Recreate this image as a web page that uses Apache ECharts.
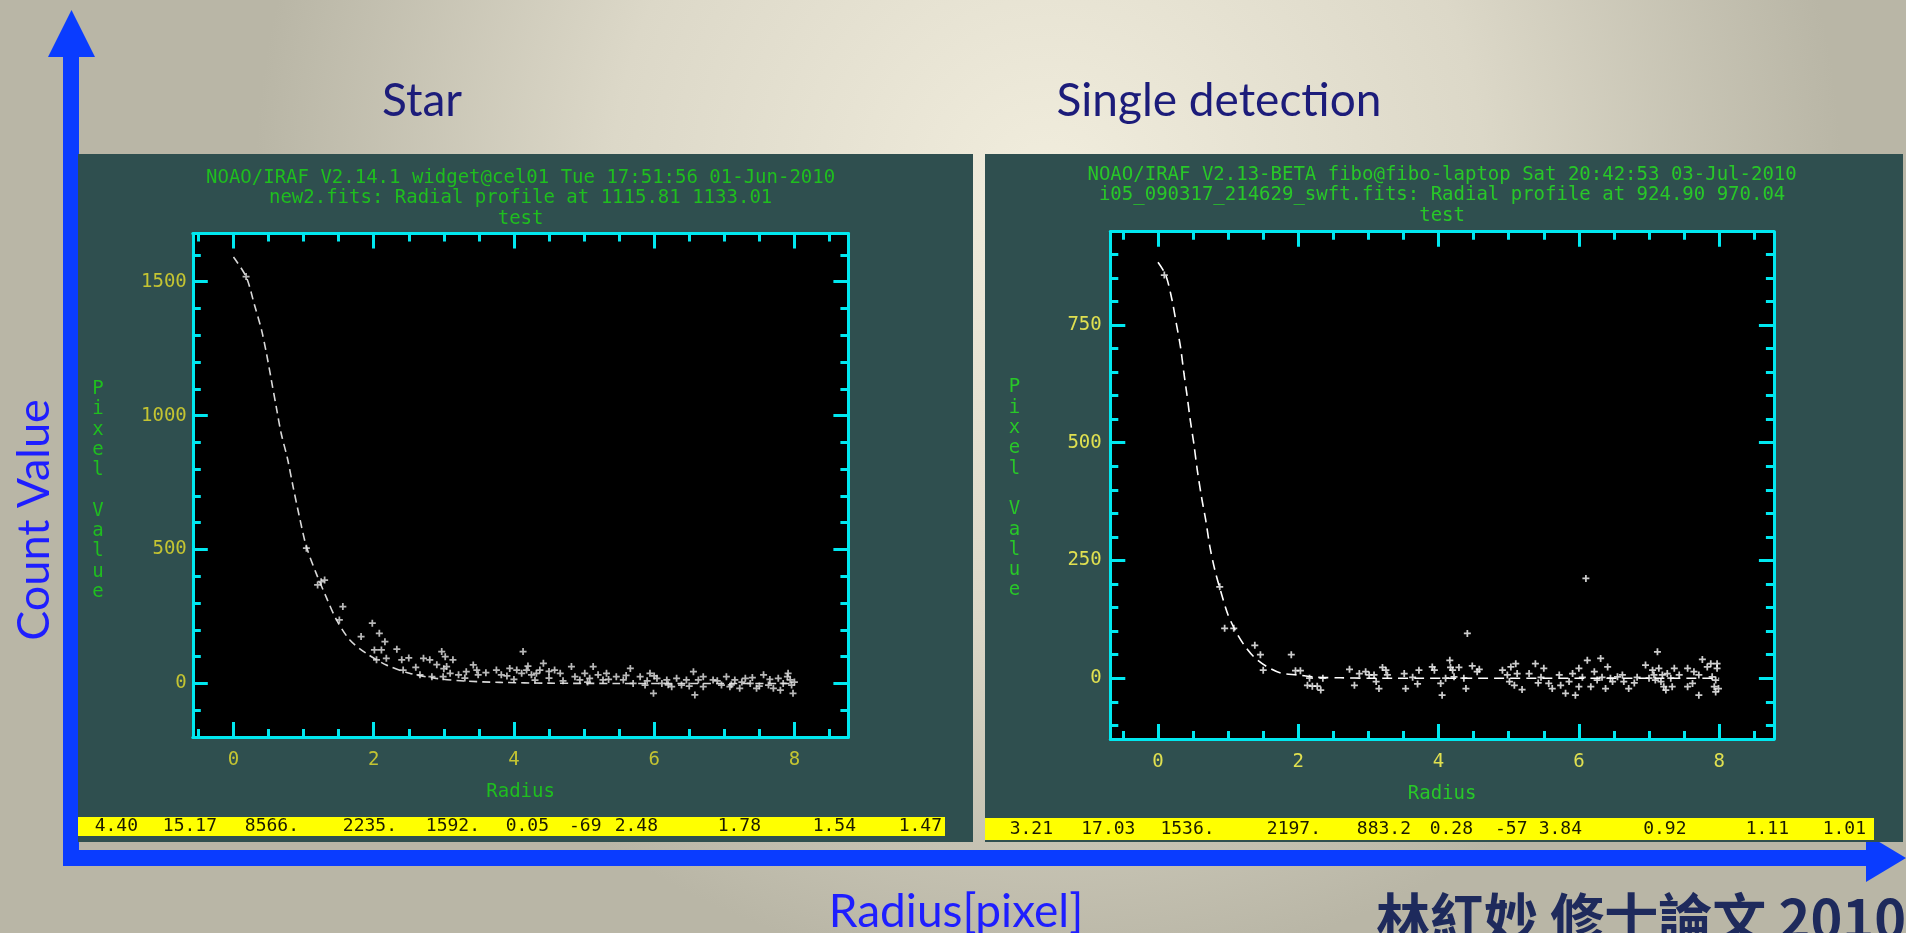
<!DOCTYPE html>
<html>
<head>
<meta charset="utf-8">
<script src="https://cdn.jsdelivr.net/npm/echarts@6/dist/echarts.min.js"></script>
<style>
  html, body { margin: 0; padding: 0; width: 1906px; height: 933px; overflow: hidden; }
  #bg { position: absolute; left: 0; top: 0; width: 1906px; height: 933px; }
  #starPanel { position: absolute; left: 78px; top: 154px; width: 895px; height: 688px; filter: blur(0.6px); }
  #detPanel { position: absolute; left: 985px; top: 154px; width: 918px; height: 688px; }
</style>
</head>
<body>
<div id="bg"></div>
<div id="starPanel"></div>
<div id="detPanel"></div>
<script>
// ---- Star: radial profile (fitted curve and measured pixels) ----
const starFitR = [0, 0.18, 0.30, 0.40, 0.47, 0.54, 0.61, 0.68, 0.77, 0.85, 0.94, 1.04, 1.18, 1.32, 1.47, 1.66, 1.89, 2.18, 2.51, 2.89, 3.3, 3.8, 4.5, 5.5, 6.5, 8.0];
const starFitV = [1592, 1519, 1413, 1320, 1233, 1133, 1033, 934, 840, 735, 623, 511, 411, 324, 237, 162, 113, 69, 38, 19, 9, 4, 1, 0, 0, 0];
const starPixR = [0.18, 1.04, 1.20, 1.25, 1.30, 1.51, 1.56, 1.82, 1.98, 2.08, 2.16, 2.01, 2.11, 2.33, 2.04, 2.18, 2.40, 2.42,
  2.71, 2.80, 2.66, 2.83, 2.97, 3.02, 3.13, 3.04, 2.99, 3.09, 3.21, 3.32, 3.42, 3.49, 3.47,
  3.75, 3.82, 3.94, 4.04, 4.11, 4.13, 4.18, 4.25, 4.32, 4.37, 4.42,
  4.58, 4.66, 4.82, 4.87, 4.94, 5.01, 5.08, 5.13, 5.20, 5.27, 5.32, 5.46, 5.56, 5.66, 5.70, 5.80, 5.87, 5.94, 5.99,
  6.04, 6.11, 6.18, 6.25, 6.32, 6.39, 6.46, 6.56, 6.58, 6.63, 6.70, 6.84, 6.96, 7.03, 7.08, 7.15, 7.22, 7.30, 7.37,
  7.46, 7.56, 7.63, 7.70, 7.77, 7.84, 7.91, 7.96, 7.98, 7.94,
  4.50, 4.70, 5.05, 5.35, 5.60, 5.90, 6.00, 6.20, 6.50, 6.70, 6.90, 7.10, 7.25, 7.40, 7.50, 7.65, 7.80, 7.90, 8.00,
  3.60, 3.90, 4.00, 4.20, 4.30, 4.50, 3.30, 3.00, 2.90, 2.60, 2.50];
const starPixV = [1519, 505, 368, 380, 386, 237, 287, 175, 225, 187, 156, 125, 125, 128, 88, 94, 88, 50,
  94, 88, 32, 25, 119, 100, 88, 63, 25, 38, 32, 44, 69, 32, 50,
  50, 32, 56, 50, 38, 119, 50, 32, 38, 50, 75,
  50, 38, 63, 25, 13, 38, 19, 63, 32, 13, 38, 25, 13, 56, 0, 25, -6, 38, -37,
  19, 0, 13, -12, 19, -6, 13, 44, -43, 13, -12, 13, -6, 25, -12, 13, -18, 19, 0,
  -18, 32, -6, -18, 19, 0, 38, -6, -37, 13,
  20, 10, 5, 15, 30, 10, 28, -5, -10, 25, 10, -5, 5, 22, -10, 15, -25, 25, 5,
  40, 28, 15, 65, 12, 45, 20, 55, 70, 60, 95];
const starStats = ['4.40', '15.17', '8566.', '2235.', '1592.', '0.05', '-69', '2.48', '1.78', '1.54', '1.47'];
const starYTicks = [0, 500, 1000, 1500];
const starYMinor = [-200, -100, 100, 200, 300, 400, 600, 700, 800, 900, 1100, 1200, 1300, 1400, 1600];
const starTitle = ['NOAO/IRAF V2.14.1 widget@cel01 Tue 17:51:56 01-Jun-2010', 'new2.fits: Radial profile at 1115.81 1133.01', 'test'];

// ---- Single detection: radial profile ----
const detFitR = [0, 0.11, 0.20, 0.26, 0.32, 0.37, 0.41, 0.46, 0.51, 0.56, 0.62, 0.68, 0.74, 0.81, 0.89, 0.99, 1.11, 1.23, 1.37, 1.56, 1.75, 1.99, 2.27, 2.6, 3.0, 8.0];
const detFitV = [883.2, 856, 803, 754, 704, 647, 605, 548, 499, 442, 385, 336, 279, 230, 187, 138, 99, 70, 45, 24, 11, 7, 2, 1, 0, 0];
const detPixR = [0.09, 0.88, 0.95, 1.08, 1.38, 1.46, 1.50, 1.90, 1.96, 2.03, 2.16, 2.13, 2.20, 2.27, 2.32, 2.35,
  2.73, 2.80, 2.87, 2.96, 3.01, 3.08, 3.11, 3.15, 3.20, 3.25, 3.27,
  3.51, 3.53, 3.63, 3.70, 3.72,
  3.91, 3.94, 4.03, 4.05, 4.10, 4.16, 4.17, 4.20, 4.22, 4.29, 4.36, 4.39, 4.41, 4.48, 4.55, 4.58,
  4.91, 4.98, 5.01, 5.03, 5.08, 5.10, 5.12, 5.19, 5.29, 5.38, 5.42, 5.46, 5.50, 5.57, 5.62, 5.72, 5.74, 5.81, 5.86, 5.91, 5.95,
  6.00, 6.00, 6.05, 6.10, 6.12, 6.17, 6.22, 6.26, 6.31, 6.33, 6.38, 6.41, 6.45, 6.48, 6.55, 6.62, 6.64, 6.71, 6.79, 6.83,
  6.95, 7.00, 7.05, 7.07, 7.09, 7.12, 7.14, 7.17, 7.19, 7.21, 7.24, 7.26, 7.31, 7.33, 7.36, 7.43, 7.55, 7.55, 7.62, 7.64,
  7.71, 7.71, 7.76, 7.83, 7.88, 7.90, 7.95, 7.97, 7.97, 7.95, 7.99, 7.93];
const detPixV = [856, 194, 106, 106, 70, 50, 17, 50, 16, 16, 0, -15, -17, -17, -25, 0,
  19, -15, 10, 14, 7, 7, -7, -22, 23, 17, 7,
  10, -22, 2, -12, 17,
  24, 17, -11, -36, 0, 38, 23, 17, 3, 23, 0, -22, 95, 26, 14, 19,
  17, 7, -7, 24, -15, 31, 10, -24, 10, 31, -10, 2, 21, -11, -22, 7, -15, -32, -7, 10, -36,
  21, -18, 2, 212, 38, -18, 14, -4, 42, 2, -22, 24, 0, -7, 3, 7, -7, -22, -10, 2,
  28, 0, 17, 7, -4, 56, 21, -7, 7, -18, -25, 10, 0, -18, 21, 7, 21, -18, -11, 14,
  7, -36, 40, 24, 31, 3, -4, 31, 21, -29, -22, -18];
const detStats = ['3.21', '17.03', '1536.', '2197.', '883.2', '0.28', '-57', '3.84', '0.92', '1.11', '1.01'];
const detYTicks = [0, 250, 500, 750];
const detYMinor = [-100, -50, 50, 100, 150, 200, 300, 350, 400, 450, 550, 600, 650, 700, 800, 850, 900];
const detTitle = ['NOAO/IRAF V2.13-BETA fibo@fibo-laptop Sat 20:42:53 03-Jul-2010', 'i05_090317_214629_swft.fits: Radial profile at 924.90 970.04', 'test'];

// shared radius ticks
const radiusTicks = [0, 2, 4, 6, 8];
const radiusMinor = [-0.5, 0.5, 1, 1.5, 2.5, 3, 3.5, 4.5, 5, 5.5, 6.5, 7, 7.5, 8.5];

const MONO = '"DejaVu Sans Mono", "Liberation Mono", monospace';
const CYAN = '#00e8f0';
const PLUS = 'path://M3,0H5V3H8V5H5V8H3V5H0V3H3Z';

function zip(a, b) { return a.map((v, i) => [v, b[i]]); }

function axisPair(pos, min, max, major, minor, label, extra) {
  const base = {
    type: 'value', position: pos, min: min, max: max,
    splitLine: { show: false },
    axisLine: { show: true, onZero: false, lineStyle: { color: CYAN, width: 3 } }
  };
  const a = Object.assign({}, base, {
    axisTick: { show: true, inside: true, length: 15, customValues: major, lineStyle: { color: CYAN, width: 3 } },
    axisLabel: label ? Object.assign({ show: true, customValues: major, fontFamily: MONO, fontSize: 19,
      formatter: v => String(v) }, label) : { show: false }
  }, extra || {});
  const b = Object.assign({}, base, {
    axisLine: { show: false, onZero: false },
    axisTick: { show: true, inside: true, length: 8, customValues: minor, lineStyle: { color: CYAN, width: 3 } },
    axisLabel: { show: false }
  });
  return [a, b];
}

function panelOption(p) {
  const W = p.width;
  const g = p.grid;
  const cx = g.left + (W - g.left - g.right) / 2;
  const xl = { color: p.labelColor, margin: 14 };
  const yl = { color: p.labelColor, margin: p.yLabelMargin };
  const xAxes = [].concat(
    axisPair('bottom', p.xMin, p.xMax, radiusTicks, radiusMinor, xl, {
      name: 'Radius', nameLocation: 'middle', nameGap: 46,
      nameTextStyle: { color: p.green, fontFamily: MONO, fontSize: 19 }
    }),
    axisPair('top', p.xMin, p.xMax, radiusTicks, radiusMinor, null)
  );
  const yAxes = [].concat(
    axisPair('left', p.yMin, p.yMax, p.yTicks, p.yMinor, yl),
    axisPair('right', p.yMin, p.yMax, p.yTicks, p.yMinor, null)
  );
  const graphic = [
    { type: 'rect', shape: { x: 0, y: 0, width: W, height: 688 }, style: { fill: '#2f4f4f' }, z: -10 },
    { type: 'rect', shape: { x: g.left, y: g.top, width: W - g.left - g.right, height: 688 - g.top - g.bottom }, style: { fill: '#000' }, z: -9 },
    { type: 'rect', shape: p.bar, style: { fill: '#ffff00' }, z: 5 }
  ];
  p.title.forEach((t, i) => graphic.push({
    type: 'text', x: cx, y: p.titleY[i], z: 6,
    style: { text: t, fill: p.green, fontFamily: MONO, fontSize: 19, textAlign: 'center', textVerticalAlign: 'middle' }
  }));
  graphic.push({
    type: 'text', x: p.yNameX, y: p.yNameY, z: 6,
    style: { text: 'P\ni\nx\ne\nl\n\nV\na\nl\nu\ne', fill: p.green, fontFamily: MONO, fontSize: 19, lineHeight: 20.3,
      textAlign: 'center', textVerticalAlign: 'middle' }
  });
  p.stats.forEach((s, i) => graphic.push({
    type: 'text', x: p.statsX[i], y: p.statsY, z: 6,
    style: { text: s, fill: '#1a1a00', fontFamily: MONO, fontSize: 18, textAlign: 'right', textVerticalAlign: 'middle' }
  }));
  return {
    animation: false,
    grid: { left: g.left, top: g.top, right: g.right, bottom: g.bottom },
    xAxis: xAxes,
    yAxis: yAxes,
    graphic: graphic,
    series: [
      {
        type: 'line', xAxisIndex: 0, yAxisIndex: 0, data: zip(p.fitR, p.fitV), smooth: 0.3,
        showSymbol: false, lineStyle: { color: p.curveColor, width: 1.6, type: p.dash }, z: 3
      },
      {
        type: 'scatter', xAxisIndex: 0, yAxisIndex: 0, data: zip(p.pixR, p.pixV), symbol: PLUS,
        symbolSize: p.markSize, itemStyle: { color: p.markColor }, z: 4
      }
    ]
  };
}

// background: slide gradient, headings and the two big axis arrows
const bg = echarts.init(document.getElementById('bg'), null, { renderer: 'canvas' });
const BLUE = '#0a3cff';
bg.setOption({
  animation: false,
  graphic: [
    { type: 'rect', shape: { x: 0, y: 0, width: 1906, height: 933 },
      style: { fill: new echarts.graphic.RadialGradient(0.55, 0.2, 0.85, [
        { offset: 0, color: '#f1eddd' }, { offset: 0.55, color: '#dcd8c8' }, { offset: 1, color: '#b9b6a6' }]) } },
    { type: 'text', x: 422, y: 101, style: { text: 'Star', fill: '#1c1c7a', font: '46px Lato', textAlign: 'center', textVerticalAlign: 'middle' } },
    { type: 'text', x: 1219, y: 101, style: { text: 'Single detection', fill: '#1c1c7a', font: '46px Lato', textAlign: 'center', textVerticalAlign: 'middle' } },
    { type: 'text', x: 34, y: 520, rotation: Math.PI / 2, style: { text: 'Count Value', fill: '#1e1eff', font: '45px Lato', textAlign: 'center', textVerticalAlign: 'middle' } },
    { type: 'text', x: 956, y: 912, style: { text: 'Radius[pixel]', fill: '#1e1eff', font: '46px Lato', textAlign: 'center', textVerticalAlign: 'middle' } },
    { type: 'text', x: 1906, y: 918, style: { text: '林紅妙 修士論文 2010', fill: '#1e2a5c', font: 'bold 54px "Noto Sans CJK TC"', textAlign: 'right', textVerticalAlign: 'middle' } },
    { type: 'rect', shape: { x: 63, y: 56, width: 16, height: 810 }, style: { fill: BLUE } },
    { type: 'polygon', shape: { points: [[48, 57], [95, 57], [71.5, 10]] }, style: { fill: BLUE } },
    { type: 'rect', shape: { x: 63, y: 850, width: 1805, height: 16 }, style: { fill: BLUE } },
    { type: 'polygon', shape: { points: [[1866, 834], [1866, 882], [1906, 858]] }, style: { fill: BLUE } }
  ]
});

const star = echarts.init(document.getElementById('starPanel'));
star.setOption(panelOption({
  width: 895,
  grid: { left: 114.8, top: 79.5, right: 124.6, bottom: 105 },
  xMin: -0.58, xMax: 8.77, yMin: -200, yMax: 1680,
  yTicks: starYTicks, yMinor: starYMinor, yLabelMargin: 6,
  fitR: starFitR, fitV: starFitV, pixR: starPixR, pixV: starPixV,
  title: starTitle, titleY: [23.7, 44.2, 65.2],
  green: '#1fbe1f', labelColor: '#c4c432', curveColor: '#d8d8d8', markColor: '#e6e6e6', markSize: 7, dash: [8, 5],
  yNameX: 20, yNameY: 336.5,
  bar: { x: 0, y: 663, width: 867, height: 19 },
  stats: starStats, statsX: [60, 139, 221, 319, 402, 471, 523.5, 580, 683, 778, 864], statsY: 672.5
}));

const det = echarts.init(document.getElementById('detPanel'));
det.setOption(panelOption({
  width: 918,
  grid: { left: 125.3, top: 77.7, right: 129.1, bottom: 103 },
  xMin: -0.68, xMax: 8.78, yMin: -129, yMax: 948,
  yTicks: detYTicks, yMinor: detYMinor, yLabelMargin: 8.6,
  fitR: detFitR, fitV: detFitV, pixR: detPixR, pixV: detPixV,
  title: detTitle, titleY: [21.4, 41, 61.6],
  green: '#28c828', labelColor: '#e0e050', curveColor: '#ffffff', markColor: '#ffffff', markSize: 7, dash: [10, 6],
  yNameX: 29.4, yNameY: 335,
  bar: { x: 0, y: 664, width: 889, height: 22 },
  stats: detStats, statsX: [68, 150.4, 229.6, 336, 426, 488, 542.5, 597, 701.5, 804, 881], statsY: 675
}));
</script>
</body>
</html>
